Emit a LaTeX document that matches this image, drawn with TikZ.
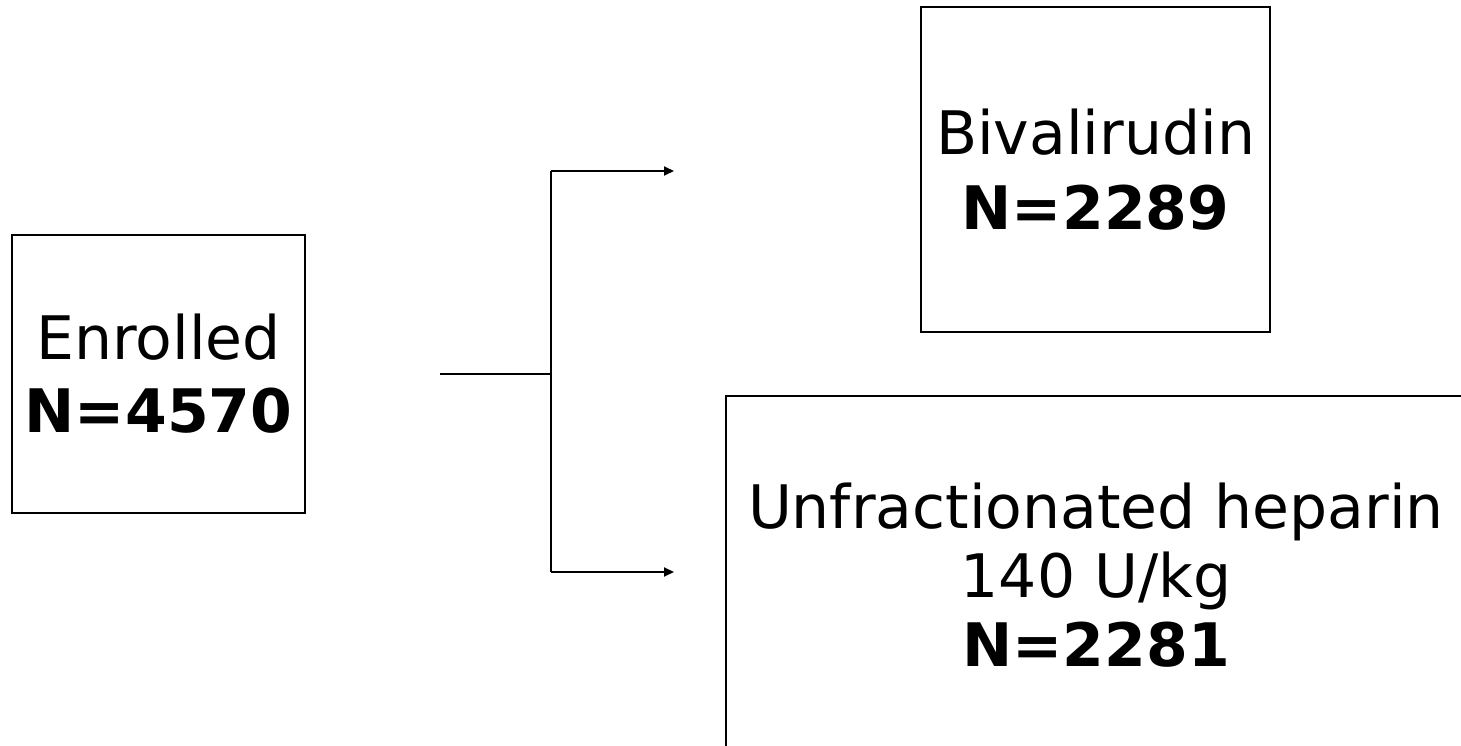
\documentclass[tikz,border=0pt]{standalone}
\usepackage{fontspec}
\setmainfont{DejaVu Sans}
\usetikzlibrary{arrows.meta}
\begin{document}
\begin{tikzpicture}[x=1pt,y=-1pt,
  box/.style={draw, line width=1.9pt, align=center, inner sep=0pt,
    font=\fontsize{60}{73}\selectfont},
  conn/.style={line width=1.9pt},
  arr/.style={conn, -{Triangle[length=10pt,width=9pt]}}]
\fill[white] (0,0) rectangle (1461,746);
\useasboundingbox (0,0) rectangle (1461,746);
\clip (0,0) rectangle (1461,746);
\node[box, minimum width=293pt, minimum height=278pt] (enr) at (158.5,374)
  {Enrolled\\\textbf{N=4570}};
\node[box, minimum width=349pt, minimum height=325pt, font=\fontsize{60}{75}\selectfont] (biv) at (1095.5,169.5)
  {Bivalirudin\\\textbf{N=2289}};
\node[box, minimum width=740pt, minimum height=358pt, font=\fontsize{60}{69}\selectfont] (ufh) at (1096,575)
  {Unfractionated heparin\\140 U/kg\\\textbf{N=2281}};
\coordinate (s) at (440,374);
\coordinate (j) at (551,374);
\coordinate (jt) at (551,171);
\coordinate (jb) at (551,572);
\coordinate (at) at (674,171);
\coordinate (ab) at (674,572);
\draw[conn] (s) -- (j);
\draw[conn] (jt) -- (jb);
\draw[arr] (jt) -- (at);
\draw[arr] (jb) -- (ab);
\end{tikzpicture}
\end{document}
